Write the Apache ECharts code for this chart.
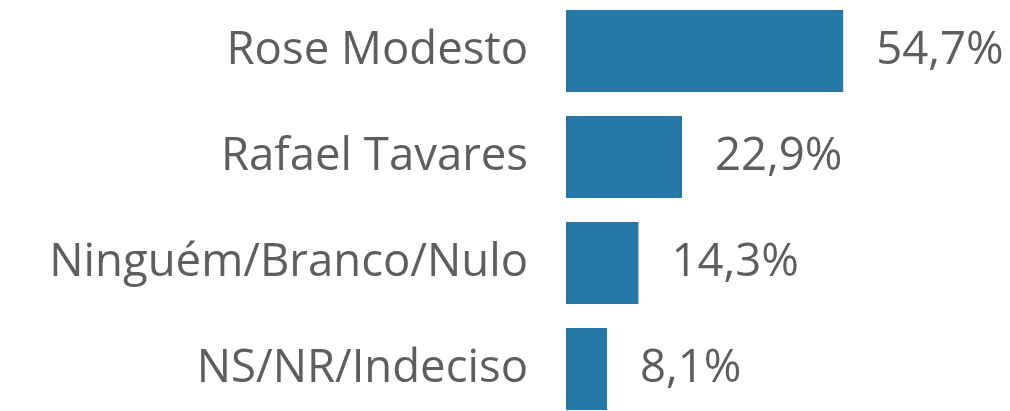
<!DOCTYPE html>
<html>
<head>
<meta charset="utf-8">
<script src="https://cdn.jsdelivr.net/npm/echarts@6/dist/echarts.min.js"></script>
<style>
html, body { margin: 0; padding: 0; background: #fff; }
#chart { width: 1010px; height: 411px; }
</style>
</head>
<body>
<div id="chart"></div>
<script>
var categories = ['Rose Modesto', 'Rafael Tavares', 'Ninguém/Branco/Nulo', 'NS/NR/Indeciso'];
var values = [54.7, 22.9, 14.3, 8.1];

var chart = echarts.init(document.getElementById('chart'));
var option = {
    animation: false,
    textStyle: { fontFamily: 'Open Sans' },
    grid: {
        left: 566,
        top: -2,
        width: 304,
        height: 424,
        outerBoundsMode: 'none'
    },
    xAxis: {
        type: 'value',
        min: 0,
        max: 60,
        show: false
    },
    yAxis: {
        type: 'category',
        inverse: true,
        data: categories,
        axisLine: { show: false },
        axisTick: { show: false },
        axisLabel: {
            margin: 38,
            fontSize: 45.5,
            color: '#605e5c',
            fontFamily: 'Open Sans'
        }
    },
    series: [{
        type: 'bar',
        data: values,
        barWidth: 82,
        itemStyle: { color: '#2776a8' },
        label: {
            show: true,
            position: 'right',
            distance: 33,
            fontSize: 45.5,
            color: '#605e5c',
            fontFamily: 'Open Sans',
            formatter: function (p) {
                return p.value.toFixed(1).replace('.', ',') + '%';
            }
        }
    }]
};
chart.setOption(option);
</script>
</body>
</html>
